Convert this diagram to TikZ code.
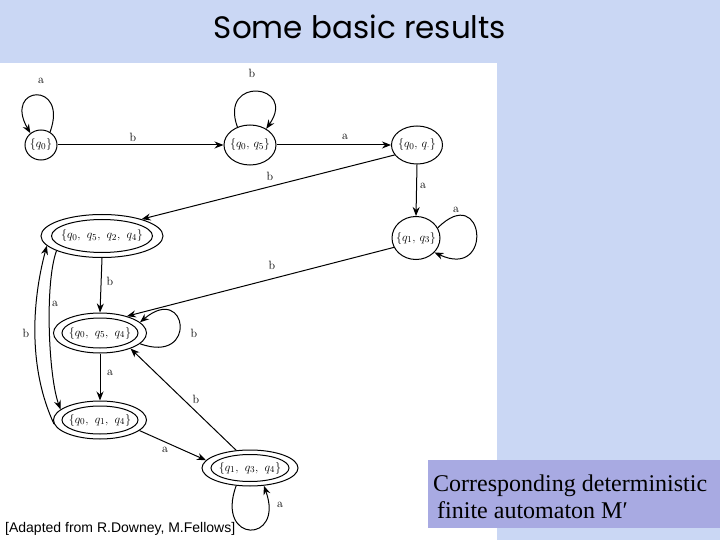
\documentclass[tikz,border=0pt]{standalone}
\usepackage{fontspec}
\newfontfamily\titlefont{Poppins}
\newfontfamily\arialfont{Liberation Sans}
\newfontfamily\timesfont{Liberation Serif}
\usetikzlibrary{shapes.geometric,arrows.meta}
\definecolor{bgblue}{RGB}{202,215,244}
\definecolor{boxc}{RGB}{168,170,226}
\newcommand\zw[1]{\makebox[0pt]{#1}}
\begin{document}
\begin{tikzpicture}[x=1pt,y=1pt,
  st/.style={ellipse, draw, line width=1pt, inner sep=0pt, font=\fontsize{13}{15}\selectfont},
  tr/.style={-{Stealth[length=9pt,width=7pt]}, line width=1pt},
  lab/.style={font=\fontsize{12}{14}\selectfont, inner sep=0pt},
  innerell/.style={line width=1pt}]
\useasboundingbox (0,0) rectangle (720,-540);
\fill[bgblue] (0,0) rectangle (720,-540);
\fill[white] (0,-63) rectangle (497,-540);
\node[anchor=base, font=\titlefont\fontsize{31}{34}\selectfont] (title) at (360,-39) {Some basic results};
\fill[boxc] (428,-460) rectangle (720,-528);
\node[anchor=base west, inner sep=0pt, font=\timesfont\fontsize{24}{27}\selectfont] (cap1) at (433,-491) {Corresponding deterministic};
\node[anchor=base west, inner sep=0pt, font=\timesfont\fontsize{24}{27}\selectfont] (cap2) at (437,-518) {finite automaton M′};
\node[anchor=base west, inner sep=0pt, font=\arialfont\fontsize{14}{16}\selectfont] (src) at (5,-532) {[Adapted from R.Downey, M.Fellows]};

% states
\node[st, minimum width=32, minimum height=30] (A) at (41,-145) {\zw{$\{q_0\}$}};
\node[st, minimum width=52, minimum height=40] (B) at (250,-145) {\zw{$\{q_0,\,q_5\}$}};
\node[st, minimum width=51, minimum height=38] (C) at (417,-145) {\zw{$\{q_0,\,q_{\cdot}\}$}};
\node[st, minimum width=122, minimum height=43] (D) at (102,-236) {\zw{$\{q_0,\ q_5,\ q_2,\ q_4\}$}};
\node[st, minimum width=48, minimum height=43] (E) at (416,-238) {\zw{$\{q_1,\,q_3\}$}};
\node[st, minimum width=93, minimum height=40] (F) at (100,-333) {\zw{$\{q_0,\ q_5,\ q_4\}$}};
\node[st, minimum width=93, minimum height=38] (G) at (100,-420) {\zw{$\{q_0,\ q_1,\ q_4\}$}};
\node[st, minimum width=96, minimum height=36] (H) at (250,-468) {\zw{$\{q_1,\ q_3,\ q_4\}$}};
\draw[innerell] (D.center) ellipse [x radius=50.5, y radius=16.5];
\draw[innerell] (F.center) ellipse [x radius=38, y radius=15];
\draw[innerell] (G.center) ellipse [x radius=38, y radius=14];
\draw[innerell] (H.center) ellipse [x radius=39, y radius=13.5];

% transitions
\draw[tr] (A.east) -- (B.west);
\draw[tr] (B.east) -- (C.west);
\draw[tr] (C.204) -- (D.23);
\draw[tr] (C.south) -- (E.north);
\draw[tr] (E.203) -- (F.32);
\draw[tr] (D.south) -- (F.north);
\draw[tr] (F.south) -- (G.north);
\draw[tr] (G.-15) -- (H.170);
\draw[tr] (H.128) -- (F.-27);
\draw[tr] (G.185) .. controls +(115:60) and +(255:60) .. (D.190);
\draw[tr] (D.198) .. controls +(250:35) and +(110:35) .. (G.165);
% loops
\draw[tr] (A.55) .. controls +(70:55) and +(120:55) .. (A.132);
\draw[tr] (B.125) .. controls +(110:55) and +(55:55) .. (B.45);
\draw[tr] (E.25) .. controls +(45:66) and +(-25:66) .. (E.-38);
\draw[tr] (F.-15) .. controls +(-20:62) and +(40:62) .. (F.15);
\draw[tr] (H.-128) .. controls +(-110:62) and +(-70:62) .. (H.-52);

% labels
\node[lab] (l1) at (41,-81) {a};
\node[lab] (l2) at (133,-137) {b};
\node[lab] (l3) at (252,-73) {b};
\node[lab] (l4) at (345,-137) {a};
\node[lab] (l5) at (270,-176) {b};
\node[lab] (l6) at (423,-186) {a};
\node[lab] (l7) at (456,-210) {a};
\node[lab] (l8) at (272,-265) {b};
\node[lab] (l9) at (110,-281) {b};
\node[lab] (l10) at (55,-304) {a};
\node[lab] (l11) at (26,-333) {b};
\node[lab] (l12) at (194,-333) {b};
\node[lab] (l13) at (110,-373) {a};
\node[lab] (l14) at (196,-399) {b};
\node[lab] (l15) at (165,-450) {a};
\node[lab] (l16) at (280,-505) {a};
\end{tikzpicture}
\end{document}
